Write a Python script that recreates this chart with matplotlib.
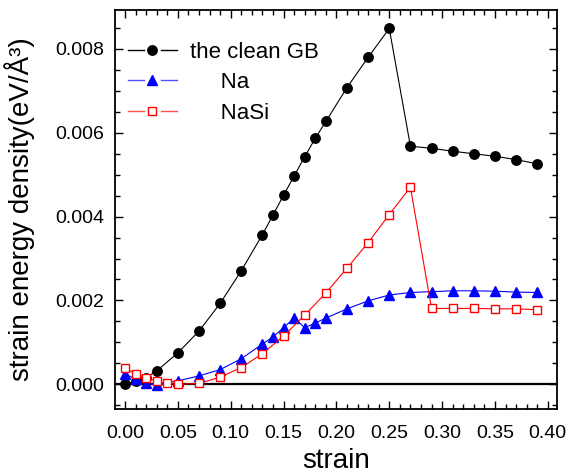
import matplotlib
matplotlib.use("Agg")
import matplotlib.pyplot as plt
from matplotlib.lines import Line2D
from matplotlib.legend_handler import HandlerBase
from matplotlib.ticker import MultipleLocator, FormatStrFormatter

plt.rcParams['font.family'] = ['Liberation Sans', 'DejaVu Sans']

# Clean GB
x_gb = [0.00, 0.01, 0.02, 0.03, 0.05, 0.07, 0.09, 0.11, 0.13, 0.14, 0.15, 0.16, 0.17,
        0.18, 0.19, 0.21, 0.23, 0.25, 0.27, 0.29, 0.31, 0.33, 0.35, 0.37, 0.39]
y_gb = [0.00000, 0.00007, 0.00016, 0.00032, 0.00075, 0.00127, 0.00193, 0.00271, 0.00357,
        0.00404, 0.00451, 0.00497, 0.00543, 0.00587, 0.00627, 0.00708, 0.00780, 0.00849,
        0.00568, 0.00563, 0.00556, 0.00550, 0.00544, 0.00536, 0.00526]

# Na
x_na = [0.00, 0.01, 0.02, 0.03, 0.05, 0.07, 0.09, 0.11, 0.13, 0.14, 0.15, 0.16, 0.17,
        0.18, 0.19, 0.21, 0.23, 0.25, 0.27, 0.29, 0.31, 0.33, 0.35, 0.37, 0.39]
y_na = [0.00025, 0.00012, 0.00002, -0.00001, 0.00008, 0.00020, 0.00035, 0.00061, 0.00096,
        0.00113, 0.00135, 0.00158, 0.00135, 0.00146, 0.00158, 0.00180, 0.00199, 0.00213,
        0.00219, 0.00221, 0.00223, 0.00223, 0.00222, 0.00220, 0.00219]

# NaSi
x_nasi = [0.00, 0.01, 0.02, 0.03, 0.04, 0.05, 0.07, 0.09, 0.11, 0.13, 0.15, 0.17, 0.19,
          0.21, 0.23, 0.25, 0.27, 0.29, 0.31, 0.33, 0.35, 0.37, 0.39]
y_nasi = [0.00039, 0.00025, 0.00016, 0.00007, 0.00002, 0.00000, 0.00002, 0.00017, 0.00040,
          0.00073, 0.00115, 0.00165, 0.00218, 0.00277, 0.00338, 0.00405, 0.00470,
          0.00181, 0.00181, 0.00181, 0.00180, 0.00180, 0.00178]

labels = ["the clean GB", "     Na", "     NaSi"]
xticks = [0.00, 0.05, 0.10, 0.15, 0.20, 0.25, 0.30, 0.35, 0.40]
yticks = [0.000, 0.002, 0.004, 0.006, 0.008]


class GapHandler(HandlerBase):
    def __init__(self, line_color, **mkw):
        super().__init__()
        self.line_color = line_color
        self.mkw = mkw

    def create_artists(self, legend, orig_handle, xdescent, ydescent, width, height,
                       fontsize, trans):
        y = height / 2 - ydescent
        x0 = -xdescent
        l1 = Line2D([x0, x0 + 0.33 * width], [y, y], color=self.line_color, lw=1.0)
        l2 = Line2D([x0 + 0.67 * width, x0 + width], [y, y], color=self.line_color, lw=1.0)
        m = Line2D([x0 + 0.5 * width], [y], linestyle='none', **self.mkw)
        for a in (l1, l2, m):
            a.set_transform(trans)
        return [l1, l2, m]


fig = plt.figure(figsize=(5.68, 4.73), dpi=100)
ax = fig.add_axes([115/568, 1-409/473, (557-115)/568, (409-10)/473])

ax.axhline(0, color='black', lw=1.6, zorder=1)
l_gb, = ax.plot(x_gb, y_gb, '-', color='black', lw=0.8, marker='o', ms=6.8, mfc='black',
                mec='black', zorder=3)
l_na, = ax.plot(x_na, y_na, '-', color='blue', lw=0.8, marker='^', ms=7.2, mfc='blue',
                mec='blue', zorder=4)
l_nasi, = ax.plot(x_nasi, y_nasi, '-', color='red', lw=0.8, marker='s', ms=5.5,
                  mfc='white', mec='red', mew=1.0, zorder=5)

ax.set_xlim(-0.0095, 0.4087)
ax.set_ylim(-0.00059, 0.00893)
ax.set_xticks(xticks)
ax.set_yticks(yticks)
ax.xaxis.set_major_formatter(FormatStrFormatter('%.2f'))
ax.yaxis.set_major_formatter(FormatStrFormatter('%.3f'))
ax.xaxis.set_minor_locator(MultipleLocator(0.01))
ax.yaxis.set_minor_locator(MultipleLocator(0.0005))
ax.tick_params(which='both', direction='in', top=True, right=True, labelsize=14,
               width=1.0)
ax.tick_params(which='major', length=6, pad=8)
ax.tick_params(axis='x', which='major', pad=11.5)
ax.tick_params(which='minor', length=3.5)
for s in ax.spines.values():
    s.set_linewidth(1.3)

ax.set_xlabel('strain', fontsize=20, labelpad=4)
ax.set_ylabel('strain energy density(eV/Å³)', fontsize=20, labelpad=14)

hmap = {
    l_gb: GapHandler('black', marker='o', ms=6.8, mfc='black', mec='black'),
    l_na: GapHandler('#5050ff', marker='^', ms=7.2, mfc='blue', mec='blue'),
    l_nasi: GapHandler('#ff5050', marker='s', ms=5.5, mfc='white', mec='red', mew=1.0),
}
ax.legend([l_gb, l_na, l_nasi], labels, handler_map=hmap, loc='upper left',
          bbox_to_anchor=(0.029, 0.92), frameon=False, fontsize=16, handlelength=2.2,
          handletextpad=0.6, labelspacing=0.42, borderpad=0, borderaxespad=0)

fig.savefig('out.png', dpi=100)
